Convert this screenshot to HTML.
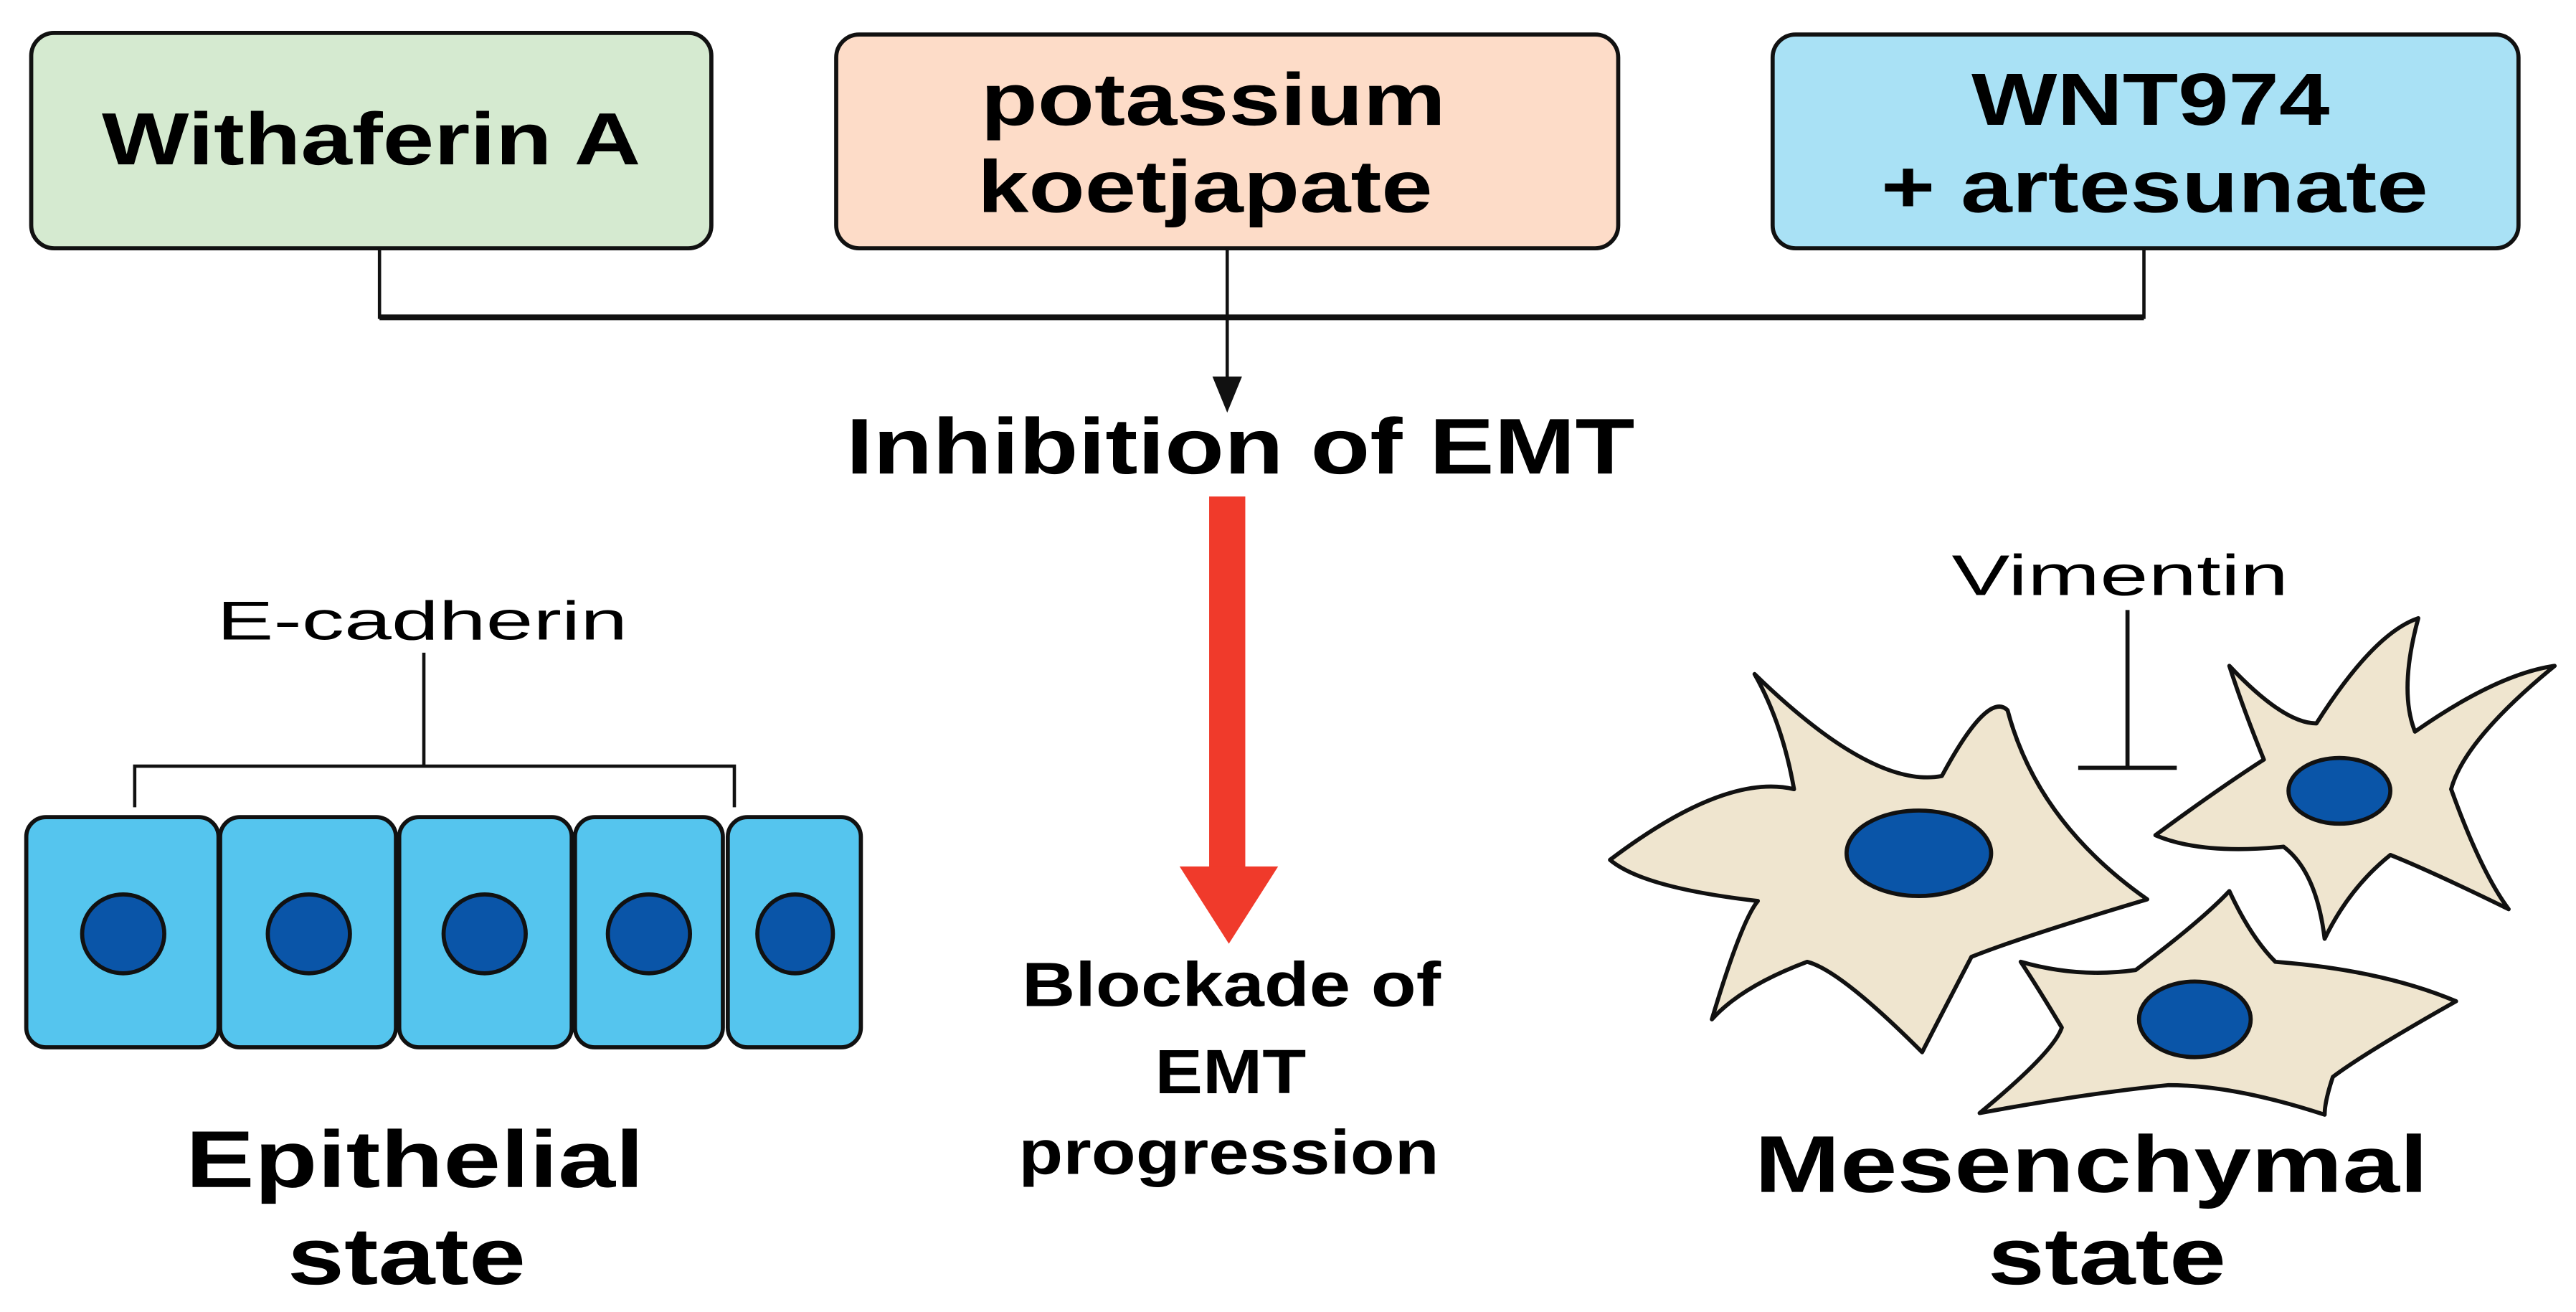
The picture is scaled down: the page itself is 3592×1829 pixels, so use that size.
<!DOCTYPE html>
<html><head><meta charset="utf-8"><style>
html,body{margin:0;padding:0;background:#fff;}
svg{display:block;}
text{font-family:"Liberation Sans",sans-serif;fill:#000;}
.b{font-weight:bold;}
</style></head><body>
<svg width="3592" height="1829" viewBox="0 0 1568 798" preserveAspectRatio="none" xmlns="http://www.w3.org/2000/svg">
<rect width="1568" height="798" fill="#fff"/>
<!-- top boxes -->
<rect x="19" y="20" width="414" height="131" rx="14" fill="#d5ead0" stroke="#111" stroke-width="2.5"/>
<rect x="509" y="21" width="476" height="130" rx="14" fill="#fddcc8" stroke="#111" stroke-width="2.5"/>
<rect x="1079" y="21" width="454" height="130" rx="14" fill="#a9e1f5" stroke="#111" stroke-width="2.5"/>
<text class="b" x="62" y="100" font-size="45" textLength="328" lengthAdjust="spacingAndGlyphs">Withaferin A</text>
<text class="b" x="597" y="76" font-size="45" textLength="283" lengthAdjust="spacingAndGlyphs">potassium</text>
<text class="b" x="595" y="129" font-size="45" textLength="277" lengthAdjust="spacingAndGlyphs">koetjapate</text>
<text class="b" x="1200" y="76" font-size="45" textLength="218" lengthAdjust="spacingAndGlyphs">WNT974</text>
<text class="b" x="1145" y="129" font-size="45" textLength="333" lengthAdjust="spacingAndGlyphs">+ artesunate</text>
<!-- connectors -->
<path d="M231 151 V193 H1305 V151" fill="none" stroke="#111" stroke-width="2"/>
<line x1="231" y1="193" x2="1305" y2="193" stroke="#111" stroke-width="3.5"/>
<line x1="747" y1="151" x2="747" y2="232" stroke="#111" stroke-width="2"/>
<polygon points="738,229 756,229 747,251" fill="#111"/>
<text class="b" x="515" y="288" font-size="48" textLength="480" lengthAdjust="spacingAndGlyphs">Inhibition of EMT</text>
<!-- red arrow -->
<rect x="736" y="302" width="22" height="228" fill="#f03a2b"/>
<polygon points="718,527 778,527 748,574" fill="#f03a2b"/>
<text class="b" x="622" y="612" font-size="38" textLength="255" lengthAdjust="spacingAndGlyphs">Blockade of</text>
<text class="b" x="703" y="665" font-size="38" textLength="92" lengthAdjust="spacingAndGlyphs">EMT</text>
<text class="b" x="620" y="714" font-size="38" textLength="256" lengthAdjust="spacingAndGlyphs">progression</text>
<!-- epithelial -->
<text x="132" y="389" font-size="33" textLength="250" lengthAdjust="spacingAndGlyphs">E-cadherin</text>
<path d="M258 397 V466 M82 491 V466 H447 V491" fill="none" stroke="#111" stroke-width="2"/>
<g fill="#55c5ee" stroke="#111" stroke-width="2.5">
<rect x="16" y="497" width="117" height="140" rx="12"/>
<rect x="134" y="497" width="107" height="140" rx="12"/>
<rect x="243" y="497" width="105" height="140" rx="12"/>
<rect x="350" y="497" width="90" height="140" rx="12"/>
<rect x="443" y="497" width="81" height="140" rx="12"/>
</g>
<g fill="#0a55a8" stroke="#111" stroke-width="2.5">
<ellipse cx="75" cy="568" rx="25" ry="24"/>
<ellipse cx="188" cy="568" rx="25" ry="24"/>
<ellipse cx="295" cy="568" rx="25" ry="24"/>
<ellipse cx="395" cy="568" rx="25" ry="24"/>
<ellipse cx="484" cy="568" rx="23" ry="24"/>
</g>
<text class="b" x="113" y="722" font-size="49" textLength="279" lengthAdjust="spacingAndGlyphs">Epithelial</text>
<text class="b" x="175" y="781" font-size="49" textLength="145" lengthAdjust="spacingAndGlyphs">state</text>
<!-- mesenchymal -->
<text x="1188" y="362" font-size="35" textLength="205" lengthAdjust="spacingAndGlyphs">Vimentin</text>
<path d="M1295 371 V467 M1265 467 H1325" fill="none" stroke="#111" stroke-width="2.5"/>
<g fill="#efe5cf" stroke="#111" stroke-width="2.5" stroke-linejoin="round">
<path d="M1068 410 Q1140 480 1182 472 Q1210 420 1222 432 Q1240 500 1307 547 Q1230 570 1200 582 Q1175 630 1170 640 Q1120 590 1100 585 Q1060 600 1042 620 Q1060 560 1070 548 Q1000 540 980 523 Q1050 470 1092 480 Q1085 440 1068 410 Z"/>
<path d="M1357 405 Q1390 440 1410 440 Q1445 385 1472 376 Q1460 420 1470 445 Q1520 410 1555 405 Q1500 450 1492 480 Q1510 530 1527 553 Q1480 530 1455 520 Q1430 540 1415 571 Q1410 530 1390 515 Q1340 520 1312 508 Q1350 480 1378 462 Q1365 430 1357 405 Z"/>
<path d="M1357 542 Q1370 570 1385 585 Q1450 590 1495 609 Q1440 640 1420 655 Q1415 670 1415 678 Q1360 660 1320 660 Q1270 665 1205 677 Q1250 640 1255 625 Q1240 600 1230 585 Q1265 595 1300 590 Q1340 560 1357 542 Z"/>
</g>
<g fill="#0a55a8" stroke="#111" stroke-width="2.5">
<ellipse cx="1168" cy="519" rx="44" ry="26"/>
<ellipse cx="1424" cy="481" rx="31" ry="20"/>
<ellipse cx="1336" cy="620" rx="34" ry="23"/>
</g>
<text class="b" x="1068" y="725" font-size="49" textLength="410" lengthAdjust="spacingAndGlyphs">Mesenchymal</text>
<text class="b" x="1210" y="781" font-size="49" textLength="145" lengthAdjust="spacingAndGlyphs">state</text>
</svg>
</body></html>
